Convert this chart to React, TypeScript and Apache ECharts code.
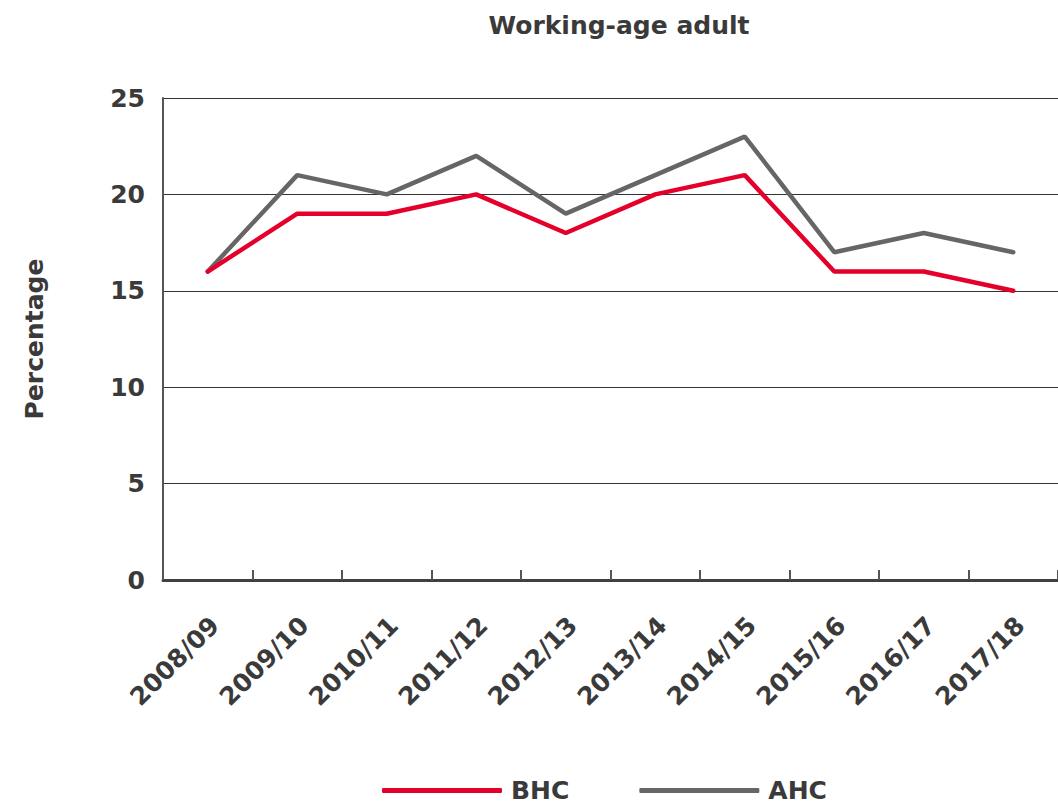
import React, { useEffect, useRef } from "react";
import * as echarts from "echarts";

const categories = ["2008/09", "2009/10", "2010/11", "2011/12", "2012/13", "2013/14", "2014/15", "2015/16", "2016/17", "2017/18"];
const bhc = [16, 19, 19, 20, 18, 20, 21, 16, 16, 15];
const ahc = [16, 21, 20, 22, 19, 21, 23, 17, 18, 17];

const FONT = "DejaVu Sans";
const TEXT = "#3a3a3a";

export default function App() {
  const ref = useRef<HTMLDivElement>(null);
  useEffect(() => {
    document.body.style.margin = "0";
    const chart = echarts.init(ref.current!, null, { renderer: "svg" });
    chart.setOption({
      animation: false,
      backgroundColor: "#ffffff",
      title: {
        text: "Working-age adult",
        left: 614,
        textAlign: "center",
        top: 8,
        textStyle: { fontFamily: FONT, fontSize: 25, fontWeight: "bold", color: TEXT },
      },
      legend: {
        left: 377,
        top: 773,
        itemWidth: 120,
        itemHeight: 5,
        itemGap: 70,
        icon: "roundRect",
        textStyle: { fontFamily: FONT, fontSize: 25, fontWeight: "bold", color: TEXT, padding: [0, 0, 0, 4] },
        data: ["BHC", "AHC"],
      },
      grid: { left: 163, top: 98, width: 903, height: 482, containLabel: false },
      xAxis: {
        type: "category",
        data: categories,
        boundaryGap: true,
        axisLine: { show: true, lineStyle: { color: "#404040", width: 3 } },
        axisTick: { show: true, inside: true, length: 10, lineStyle: { color: "#555", width: 2 } },
        axisLabel: {
          rotate: 45,
          margin: 34,
          fontFamily: FONT,
          fontSize: 25,
          lineHeight: 20,
          verticalAlign: "top",
          fontWeight: "bold",
          color: TEXT,
        },
      },
      yAxis: {
        type: "value",
        min: 0,
        max: 25,
        interval: 5,
        name: "Percentage",
        nameLocation: "middle",
        nameGap: 116,
        nameRotate: 90,
        nameTextStyle: { fontFamily: FONT, fontSize: 25, fontWeight: "bold", color: TEXT },
        axisLine: { show: true, lineStyle: { color: "#555", width: 2 } },
        axisTick: { show: false },
        axisLabel: { margin: 18, fontFamily: FONT, fontSize: 25, color: TEXT, fontWeight: "bold" },
        splitLine: { show: true, lineStyle: { color: "#333", width: 1 } },
      },
      series: [
        {
          name: "BHC",
          type: "line",
          data: bhc,
          symbol: "none",
          color: "#e4002b",
          lineStyle: { color: "#e4002b", width: 4.5, cap: "round" },
          z: 3,
        },
        {
          name: "AHC",
          type: "line",
          data: ahc,
          symbol: "none",
          color: "#666666",
          lineStyle: { color: "#666666", width: 4.5, cap: "round" },
          z: 2,
        },
      ],
    });
    return () => chart.dispose();
  }, []);
  return <div ref={ref} style={{ width: 1058, height: 808 }} />;
}
